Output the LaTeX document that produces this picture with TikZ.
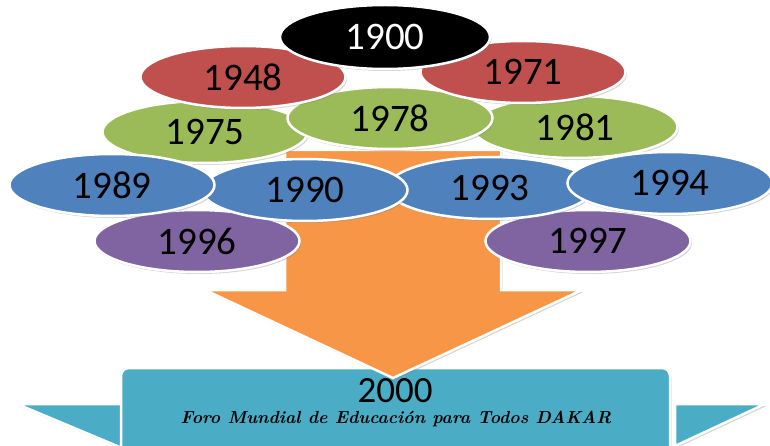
\documentclass[tikz,border=0pt]{standalone}
\usepackage{fontspec}
\newfontfamily\numfont{Carlito}
\usepackage{tikz}
\usetikzlibrary{shapes}
\usetikzlibrary{shadows}
\usetikzlibrary{calc}
\definecolor{rojo}{HTML}{C0504D}
\definecolor{verde}{HTML}{9BBB59}
\definecolor{azul}{HTML}{4F81BD}
\definecolor{morado}{HTML}{8064A2}
\definecolor{naranja}{HTML}{F79646}
\definecolor{turquesa}{HTML}{4BACC6}

\begin{document}
\begin{tikzpicture}[x=1pt,y=-1pt,
  year/.style={ellipse,draw=white,line width=2.5pt,inner sep=0pt,
    minimum width=205pt,minimum height=62pt,
    font=\numfont\fontsize{39}{42}\selectfont,
    drop shadow={opacity=0.35,shadow xshift=1.5pt,shadow yshift=-2pt}},
  rim/.style={draw=white,line width=2.5pt,
    drop shadow={opacity=0.35,shadow xshift=1.5pt,shadow yshift=-2pt}}]
\useasboundingbox (0,0) rectangle (770,446);
\clip (0,0) rectangle (770,446);
% cinta y caja de 2000
\path[rim,fill=turquesa] (17,404) -- (122,404) -- (122,448) -- cycle;
\path[rim,fill=turquesa] (765,404) -- (675,404) -- (675,446) -- cycle;
\path[rim,fill=turquesa,rounded corners=8pt] (121,470) -- (121,368) -- (670,368) -- (670,470);
\node (dosmil) at (395,391) {\numfont\fontsize{37}{40}\selectfont 2000};
\node (foro) at (396,419) {\fontsize{17.5}{20}\selectfont\bfseries\itshape Foro Mundial de Educación para Todos DAKAR};
% flecha
\path[rim,fill=naranja] (285,150) -- (501,150) -- (501,290) -- (582,290)
  -- (393,378) -- (205,290) -- (285,290) -- cycle;
% elipses
\node[year,fill=morado] (e1996) at (197,241) {1996};
\node[year,fill=morado] (e1997) at (588,241) {1997};
\node[year,fill=verde] (e1975) at (205,132) {1975};
\node[year,fill=verde] (e1981) at (575,127) {1981};
\node[year,fill=verde] (e1978) at (390,118) {1978};
\node[year,fill=rojo] (e1948) at (243,77) {1948};
\node[year,fill=rojo] (e1971) at (523,72) {1971};
\node[year,fill=black,text=white,minimum width=210pt,minimum height=64pt] (e1900) at (385,37) {1900};
\node[year,fill=azul] (e1993) at (490,188) {1993};
\node[year,fill=azul] (e1990) at (305,190) {1990};
\node[year,fill=azul] (e1994) at (670,183) {1994};
\node[year,fill=azul] (e1989) at (112,185) {1989};
\end{tikzpicture}
\end{document}
